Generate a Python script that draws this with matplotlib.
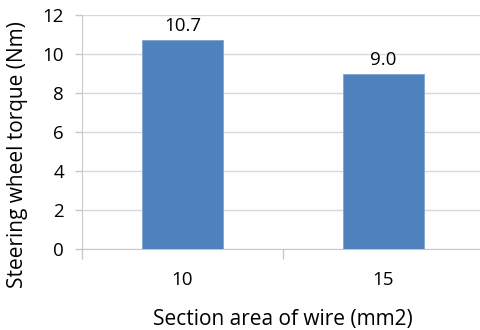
import matplotlib
matplotlib.use("Agg")
import matplotlib.pyplot as plt

categories = ["10", "15"]
torque = [10.7, 9.0]
value_labels = ["10.7", "9.0"]
yticks = [0, 2, 4, 6, 8, 10, 12]

plt.rcParams['font.family'] = ['Open Sans', 'DejaVu Sans']

fig = plt.figure(figsize=(4.81, 3.30), dpi=100)
ax = fig.add_axes([82/481, 1-249/330, 402/481, 234/330])

x = list(range(len(categories)))
ax.bar(x, torque, width=0.4, color="#4f81bd", edgecolor="#7fa3d3", linewidth=0.6, zorder=3)
for xi, v, lab in zip(x, torque, value_labels):
    ax.text(xi, v + 0.25, lab, ha="center", va="bottom", fontsize=13.5, color="#000000")

ax.set_xlim(-0.5, 1.5)
ax.set_ylim(0, 12)
ax.set_yticks(yticks)
ax.set_xticks(x)
ax.set_xticklabels(categories)
ax.set_xticks([-0.5, 0.5, 1.5], minor=True)
ax.tick_params(axis="x", which="major", length=0, pad=16, labelsize=13.5)
ax.tick_params(axis="x", which="minor", length=7, color="#c8c8c8", width=1)
ax.tick_params(axis="y", length=5, color="#c8c8c8", width=1, labelsize=13.5, pad=8)
ax.yaxis.grid(True, color="#d9d9d9", linewidth=1, zorder=0)
for s in ["top", "right"]:
    ax.spines[s].set_visible(False)
for s in ["left", "bottom"]:
    ax.spines[s].set_color("#c8c8c8")

ax.set_xlabel("Section area of wire (mm2)", fontsize=15, labelpad=14)
fig.text(18/481, 1-155/330, "Steering wheel torque (Nm)", rotation=90,
         ha="center", va="center", fontsize=15)

fig.savefig("out.png", dpi=100)
